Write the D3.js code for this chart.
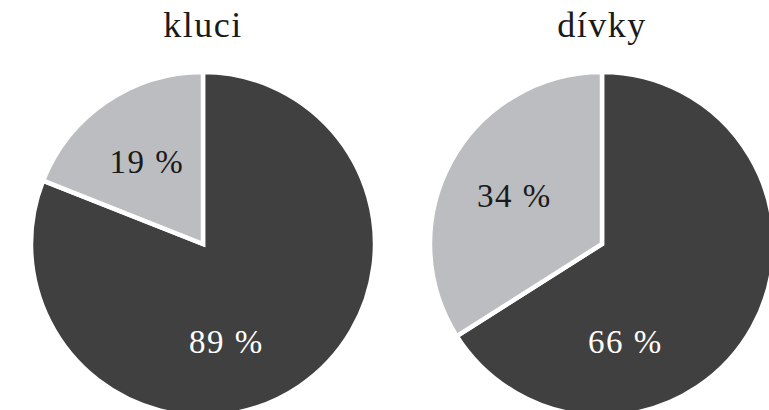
<!DOCTYPE html>
<html>
<head>
<meta charset="utf-8">
<script src="https://cdn.jsdelivr.net/npm/d3@7"></script>
<style>
    html, body { margin: 0; padding: 0; background: #fff; }
    svg { display: block; }
</style>
</head>
<body>
<div id="chart"></div>
<script>
// groups (one pie each)
const groups = ["kluci", "dívky"];

// slice shares: [dark, light]
const kluciShares = [81, 19];
const divkyShares = [66, 34];

// labels printed in the slices (kept as printed)
const kluciLabels = ["89 %", "19 %"];
const divkyLabels = ["66 %", "34 %"];

const sliceNames = ["dark", "light"];

const width = 769;
const height = 410;
const radius = 172;

const colors = d3.scaleOrdinal().domain(sliceNames).range(["#404040", "#bcbdc1"]);
const labelColors = d3.scaleOrdinal().domain(sliceNames).range(["#ffffff", "#1a1a1a"]);

const xPos = d3.scalePoint().domain(groups).range([203, 602]);
const centerY = 244;

const svg = d3.select("#chart").append("svg")
    .attr("width", width)
    .attr("height", height);

const pie = d3.pie().sort(null).value((d) => d.share);
const arc = d3.arc().innerRadius(0).outerRadius(radius);

const chartData = [
    { name: "kluci", shares: kluciShares, labels: kluciLabels },
    { name: "dívky", shares: divkyShares, labels: divkyLabels }
];

chartData.forEach((g) => {
    const rows = g.shares.map((s, i) => ({ slice: sliceNames[i], share: s, label: g.labels[i] }));
    const arcs = pie(rows);

    const grp = svg.append("g")
        .attr("class", "pie")
        .attr("transform", `translate(${xPos(g.name)},${centerY})`);

    grp.selectAll("path")
        .data(arcs)
        .join("path")
        .attr("d", arc)
        .attr("fill", (d) => colors(d.data.slice))
        .attr("stroke", "#fff")
        .attr("stroke-width", 4.5)
        .attr("stroke-linejoin", "miter");

    // big slice label sits low in the pie, small slice label near its centroid
    grp.selectAll("text.val")
        .data(arcs)
        .join("text")
        .attr("class", "val")
        .attr("transform", (d) => {
            const big = d.endAngle - d.startAngle > Math.PI;
            const a = big ? Math.PI * 0.925 : (d.startAngle + d.endAngle) / 2;
            const r = 100;
            return `translate(${Math.sin(a) * r},${-Math.cos(a) * r})`;
        })
        .attr("text-anchor", "middle")
        .attr("dy", "0.35em")
        .attr("font-family", "'Liberation Serif', 'DejaVu Serif', serif")
        .attr("font-size", 33)
        .attr("letter-spacing", 1.5)
        .attr("fill", (d) => labelColors(d.data.slice))
        .text((d) => d.data.label);

    svg.append("text")
        .attr("class", "title")
        .attr("x", xPos(g.name))
        .attr("y", 37)
        .attr("text-anchor", "middle")
        .attr("font-family", "'Liberation Serif', 'DejaVu Serif', serif")
        .attr("font-size", 36)
        .attr("letter-spacing", 1.5)
        .attr("fill", "#1a1a1a")
        .text(g.name);
});
</script>
</body>
</html>
